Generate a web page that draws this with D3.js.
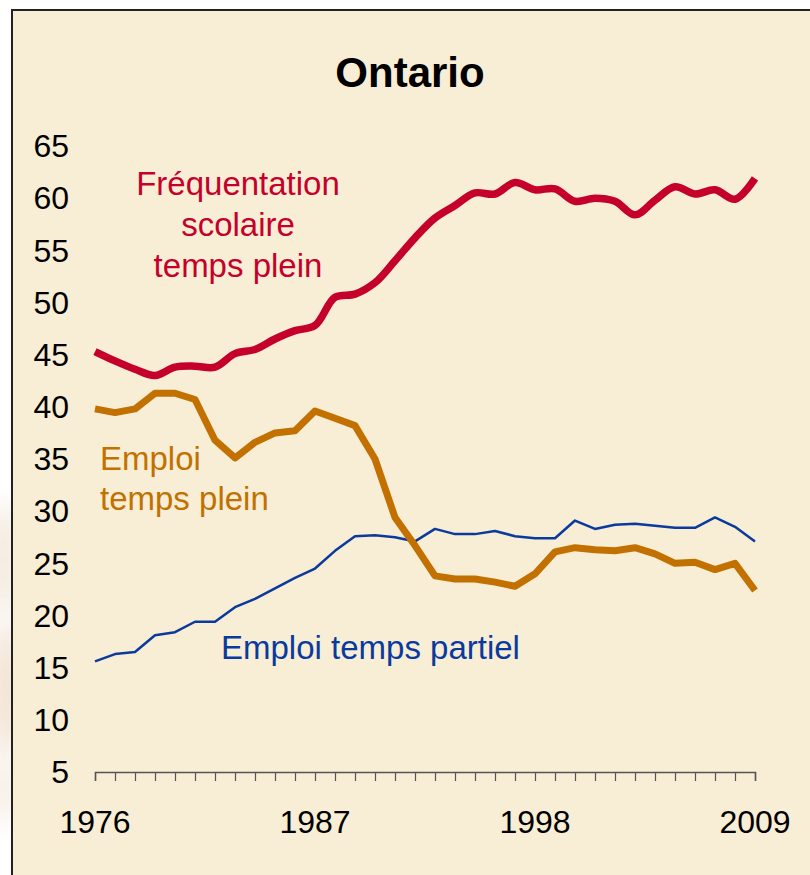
<!DOCTYPE html>
<html>
<head>
<meta charset="utf-8">
<script src="https://cdn.jsdelivr.net/npm/d3@7"></script>
<style>
  html, body { margin: 0; padding: 0; background: #ffffff; }
  svg { display: block; }
  text { font-family: "Liberation Sans", Arial, Helvetica, sans-serif; }
</style>
</head>
<body>
<svg id="chart" width="810" height="875"></svg>
<script>
const years = d3.range(1976, 2010);
const yearLabels = [1976, 1987, 1998, 2009];
const yTicks = [5, 10, 15, 20, 25, 30, 35, 40, 45, 50, 55, 60, 65];

const frequentation = [45.3, 44.4, 43.6, 43.0, 43.8, 43.9, 43.8, 45.1, 45.5, 46.5,
  47.3, 47.8, 50.5, 50.8, 51.9, 54.0, 56.2, 58.1, 59.3, 60.5,
  60.4, 61.5, 60.8, 60.9, 59.7, 60.0, 59.7, 58.4, 59.8, 61.1,
  60.4, 60.8, 59.9, 61.9];
const emploiPlein = [39.8, 39.45, 39.8, 41.3, 41.3, 40.7, 36.8, 35.1, 36.6, 37.5,
  37.7, 39.6, 38.9, 38.2, 35.0, 29.4, 26.7, 23.8, 23.5, 23.5,
  23.2, 22.8, 24.0, 26.1, 26.5, 26.3, 26.2, 26.5, 25.9, 25.0,
  25.1, 24.4, 25.0, 22.4];
const emploiPartiel = [15.6, 16.3, 16.5, 18.1, 18.4, 19.4, 19.4, 20.8, 21.6, 22.6,
  23.6, 24.5, 26.2, 27.6, 27.7, 27.5, 27.1, 28.3, 27.8, 27.8,
  28.1, 27.6, 27.4, 27.4, 29.1, 28.3, 28.7, 28.8, 28.6, 28.4,
  28.4, 29.4, 28.5, 27.1];

const title = "Ontario";
const labelFreq = ["Fréquentation", "scolaire", "temps plein"];
const labelPlein = ["Emploi", "temps plein"];
const labelPartiel = "Emploi temps partiel";

const colRed = "#C4002B";
const colOrange = "#C27100";
const colBlue = "#0A3A9E";
const bg = "#F8EED5";

const svg = d3.select("#chart");

// decorative soft glow on the left margin
const defs = svg.append("defs");
const f = defs.append("filter").attr("id", "blur").attr("x", "-100%").attr("y", "-50%").attr("width", "300%").attr("height", "200%");
f.append("feGaussianBlur").attr("stdDeviation", 12);
const clip = defs.append("clipPath").attr("id", "leftclip");
clip.append("rect").attr("x", 0).attr("y", 0).attr("width", 12).attr("height", 875);
const deco = svg.append("g").attr("clip-path", "url(#leftclip)").attr("opacity", 0.55);
deco.append("ellipse").attr("cx", 4).attr("cy", 560).attr("rx", 10).attr("ry", 60).attr("fill", "#E2C8A4").attr("filter", "url(#blur)");
deco.append("ellipse").attr("cx", 6).attr("cy", 690).attr("rx", 10).attr("ry", 70).attr("fill", "#DDB285").attr("filter", "url(#blur)");
deco.append("ellipse").attr("cx", 4).attr("cy", 790).attr("rx", 8).attr("ry", 35).attr("fill", "#E6CBAA").attr("filter", "url(#blur)");

// panel
svg.append("rect").attr("x", 12).attr("y", 10).attr("width", 820).attr("height", 900)
  .attr("fill", bg).attr("stroke", "#222").attr("stroke-width", 2);

const x = d3.scaleLinear().domain([1976, 2009]).range([95, 755]);
const y = d3.scaleLinear().domain([5, 65]).range([772, 146]);

// title
svg.append("text").attr("x", 410).attr("y", 87).attr("text-anchor", "middle")
  .attr("font-size", 42).attr("font-weight", "bold").attr("fill", "#000").text(title);

// x axis
const xAxis = d3.axisBottom(x).tickValues(years).tickSize(9).tickFormat("");
const gx = svg.append("g").attr("transform", "translate(0,772)").call(xAxis);
gx.select(".domain").attr("stroke", "#555").attr("stroke-width", 1.5);
gx.selectAll(".tick line").attr("stroke", "#555").attr("stroke-width", 1.2);

svg.append("g").selectAll("text").data(yearLabels).join("text")
  .attr("x", d => x(d)).attr("y", 833).attr("text-anchor", "middle")
  .attr("font-size", 32).attr("fill", "#000").text(d => d);

// y labels
svg.append("g").selectAll("text").data(yTicks).join("text")
  .attr("x", 69).attr("y", d => y(d)).attr("dy", "0.35em").attr("text-anchor", "end")
  .attr("font-size", 32).attr("fill", "#000").text(d => d);

// lines
const lineStraight = d3.line().x((d, i) => x(years[i])).y(d => y(d));
const lineSmooth = d3.line().x((d, i) => x(years[i])).y(d => y(d)).curve(d3.curveCatmullRom.alpha(0.5));

svg.append("path").datum(emploiPartiel).attr("d", lineStraight)
  .attr("fill", "none").attr("stroke", colBlue).attr("stroke-width", 2.5).attr("stroke-linejoin", "round");
svg.append("path").datum(emploiPlein).attr("d", lineStraight)
  .attr("fill", "none").attr("stroke", colOrange).attr("stroke-width", 7).attr("stroke-linejoin", "round");
svg.append("path").datum(frequentation).attr("d", lineSmooth)
  .attr("fill", "none").attr("stroke", colRed).attr("stroke-width", 7.5).attr("stroke-linejoin", "round");

// series labels
svg.append("text").attr("text-anchor", "middle").attr("font-size", 33).attr("fill", colRed)
  .selectAll("tspan").data(labelFreq).join("tspan")
  .attr("x", 238).attr("y", (d, i) => 195 + i * 41).text(d => d);

svg.append("text").attr("text-anchor", "start").attr("font-size", 33).attr("fill", colOrange)
  .selectAll("tspan").data(labelPlein).join("tspan")
  .attr("x", 100).attr("y", (d, i) => 470 + i * 40).text(d => d);

svg.append("text").attr("x", 221).attr("y", 659).attr("text-anchor", "start")
  .attr("font-size", 33).attr("fill", colBlue).text(labelPartiel);
</script>
</body>
</html>
